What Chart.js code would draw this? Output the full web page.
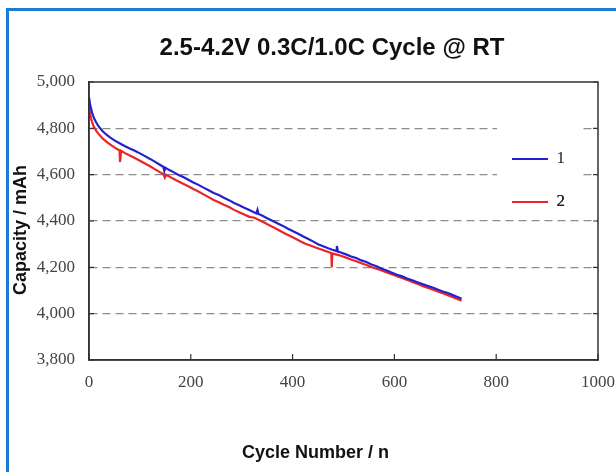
<!DOCTYPE html>
<html><head><meta charset="utf-8">
<script src="https://cdn.jsdelivr.net/npm/chart.js@4.4.1/dist/chart.umd.min.js"></script>
<style>
html,body{margin:0;padding:0;background:#fff;}
#wrap{position:relative;width:616px;height:472px;overflow:hidden;}
#frame{position:absolute;left:6px;top:8px;width:700px;height:600px;border-left:3px solid #1c7bd6;border-top:3px solid #1c7bd6;}
canvas{position:absolute;left:0;top:0;}
</style></head><body>
<div id="wrap"><div id="frame"></div><canvas id="c" width="616" height="472" style="width:616px;height:472px"></canvas></div>
<script>
const chartTitle = '2.5-4.2V 0.3C/1.0C Cycle @ RT';
const xTitle = 'Cycle Number / n';
const yTitle = 'Capacity / mAh';
const seriesNames = ['1', '2'];
const xTicks = [0, 200, 400, 600, 800, 1000];
const yTicks = [3800, 4000, 4200, 4400, 4600, 4800, 5000];

const cycles1 = [0,2,4,6,8,10,14,18,22,26,30,36,42,50,60,70,80,90,100,110,120,130,140,146,148,150,156,165,175,185,195,205,215,225,235,245,255,265,275,285,295,305,315,325,329,331,333,340,350,360,370,380,390,400,410,420,430,440,450,460,470,478,484,486,487,489,495,505,515,525,535,545,555,565,575,585,595,605,615,625,635,645,655,665,675,685,695,705,715,725,732];
const capacity1 = [4935,4905,4885,4868,4855,4843,4826,4812,4800,4790,4781,4770,4760,4748,4736,4724,4713,4703,4692,4680,4668,4655,4642,4634,4616,4630,4622,4612,4600,4590,4578,4566,4556,4544,4533,4521,4512,4500,4490,4478,4468,4457,4447,4437,4433,4448,4430,4424,4412,4401,4390,4380,4368,4357,4346,4334,4323,4312,4300,4291,4282,4276,4272,4270,4292,4268,4264,4256,4247,4240,4230,4223,4212,4205,4194,4186,4177,4168,4161,4152,4144,4136,4128,4120,4113,4104,4096,4089,4080,4071,4064];

const cycles2 = [0,2,4,6,8,10,14,18,22,26,30,36,42,50,56,60,61,63,70,80,90,100,110,120,130,140,146,149,151,156,165,175,185,195,205,215,225,235,245,255,265,275,285,295,305,315,325,335,345,355,365,375,385,395,405,415,425,435,445,455,465,472,476,477,478,485,495,505,515,525,535,545,555,565,575,585,595,605,615,625,635,645,655,665,675,685,695,705,715,725,732];
const capacity2 = [4890,4862,4843,4828,4815,4805,4790,4778,4768,4758,4750,4739,4730,4718,4710,4705,4655,4703,4694,4683,4672,4660,4648,4636,4623,4610,4603,4588,4600,4594,4583,4572,4561,4550,4538,4527,4515,4503,4491,4481,4470,4460,4448,4438,4428,4418,4414,4403,4392,4381,4370,4358,4346,4335,4324,4313,4302,4294,4286,4278,4270,4265,4262,4200,4260,4256,4250,4242,4234,4226,4218,4210,4201,4194,4186,4178,4170,4162,4154,4146,4137,4129,4120,4112,4104,4096,4088,4080,4071,4062,4056];

const toPts = (xs, ys) => xs.map((x, i) => ({x: x, y: ys[i]}));

const LEG_LEFT = 486, LEG_TOP = 124.5;
const X_TITLE_SHIFT = -28, Y_TITLE_SHIFT = 9;

function shiftTitle(scale, dx, dy) {
  const orig = scale.drawTitle;
  scale.drawTitle = function () {
    const s = {l: this.left, r: this.right, t: this.top, b: this.bottom};
    this.left += dx; this.right += dx; this.top += dy; this.bottom += dy;
    orig.call(this);
    this.left = s.l; this.right = s.r; this.top = s.t; this.bottom = s.b;
  };
}

const decor = {
  id: 'decor',
  afterLayout(chart) {
    const lg = chart.legend;
    if (lg) {
      const w = lg.width, h = lg.height;
      lg.left = LEG_LEFT; lg.top = LEG_TOP; lg.right = LEG_LEFT + w; lg.bottom = LEG_TOP + h;
    }
    const tb = chart.titleBlock;
    if (tb) { tb.left = 66; tb.right = 598; tb.width = tb.right - tb.left; }
    if (!chart.scales.x._shifted) { shiftTitle(chart.scales.x, X_TITLE_SHIFT, 0); chart.scales.x._shifted = true; }
    if (!chart.scales.y._shifted) { shiftTitle(chart.scales.y, 0, Y_TITLE_SHIFT); chart.scales.y._shifted = true; }
  },
  afterDatasetsDraw(chart) {
    const {ctx, chartArea: a, scales: {x, y}} = chart;
    ctx.save();
    ctx.fillStyle = '#ffffff';
    ctx.fillRect(497, 112, 85, 80);
    ctx.restore();
    chart.legend.draw();
    ctx.save();
    ctx.strokeStyle = '#333';
    ctx.lineWidth = 1.5;
    ctx.strokeRect(a.left, a.top, a.right - a.left, a.bottom - a.top);
    ctx.lineWidth = 1.2;
    ctx.beginPath();
    x.ticks.forEach(t => { const px = x.getPixelForValue(t.value); ctx.moveTo(px, a.bottom); ctx.lineTo(px, a.bottom - 6); });
    y.ticks.forEach(t => { const py = y.getPixelForValue(t.value); ctx.moveTo(a.left, py); ctx.lineTo(a.left + 5, py); ctx.moveTo(a.right, py); ctx.lineTo(a.right - 5, py); });
    ctx.stroke();
    ctx.restore();
  }
};

new Chart(document.getElementById('c'), {
  type: 'scatter',
  data: {
    datasets: [
      {label: seriesNames[0], data: toPts(cycles1, capacity1), showLine: true, borderColor: '#2121cf', backgroundColor: '#2121cf', borderWidth: 2.2, pointRadius: 0, tension: 0},
      {label: seriesNames[1], data: toPts(cycles2, capacity2), showLine: true, borderColor: '#ea2427', backgroundColor: '#ea2427', borderWidth: 2.2, pointRadius: 0, tension: 0}
    ]
  },
  options: {
    responsive: false,
    animation: false,
    devicePixelRatio: 1,
    layout: {padding: {left: 8, right: 18, top: 0, bottom: 0}},
    plugins: {
      title: {display: true, text: chartTitle, color: '#111', font: {family: 'Liberation Sans, Arial', size: 24, weight: 'bold'}, padding: {top: 33.6, bottom: 19.6}},
      legend: {
        display: true, position: 'chartArea', align: 'start',
        labels: {usePointStyle: true, pointStyle: 'line', pointStyleWidth: 36, padding: 26, color: '#222', font: {family: 'Liberation Serif, Times New Roman', size: 17}}
      },
      tooltip: {enabled: false}
    },
    scales: {
      x: {
        type: 'linear', min: 0, max: 1000,
        afterBuildTicks: s => { s.ticks = xTicks.map(v => ({value: v})); },
        afterFit: s => { s.height = 112; s.paddingRight = 0; s.paddingLeft = 0; },
        grid: {display: false},
        border: {display: true, color: '#333', width: 1.5},
        ticks: {color: '#444', padding: 4, maxRotation: 0, font: {family: 'Liberation Serif, Times New Roman', size: 17}, callback: v => String(v)},
        title: {display: true, text: xTitle, color: '#111', font: {family: 'Liberation Sans, Arial', size: 18, weight: 'bold'}, padding: {top: 0, bottom: 8}}
      },
      y: {
        type: 'linear', min: 3800, max: 5000,
        afterBuildTicks: s => { s.ticks = yTicks.map(v => ({value: v})); },
        afterFit: s => { s.width = 81; s.paddingTop = 0; s.paddingBottom = 0; },
        grid: {drawTicks: false, color: c => (c.tick && (c.tick.value === 3800 || c.tick.value === 5000)) ? 'rgba(0,0,0,0)' : '#8c8c8c', lineWidth: 1.2},
        border: {display: true, color: '#333', width: 1.5, dash: [8, 5]},
        ticks: {color: '#444', padding: 14, font: {family: 'Liberation Serif, Times New Roman', size: 17}, callback: v => v.toLocaleString('en-US')},
        title: {display: true, text: yTitle, color: '#111', font: {family: 'Liberation Sans, Arial', size: 18, weight: 'bold'}, padding: {top: 2, bottom: 0}}
      }
    }
  },
  plugins: [decor]
});
</script>
</body></html>
